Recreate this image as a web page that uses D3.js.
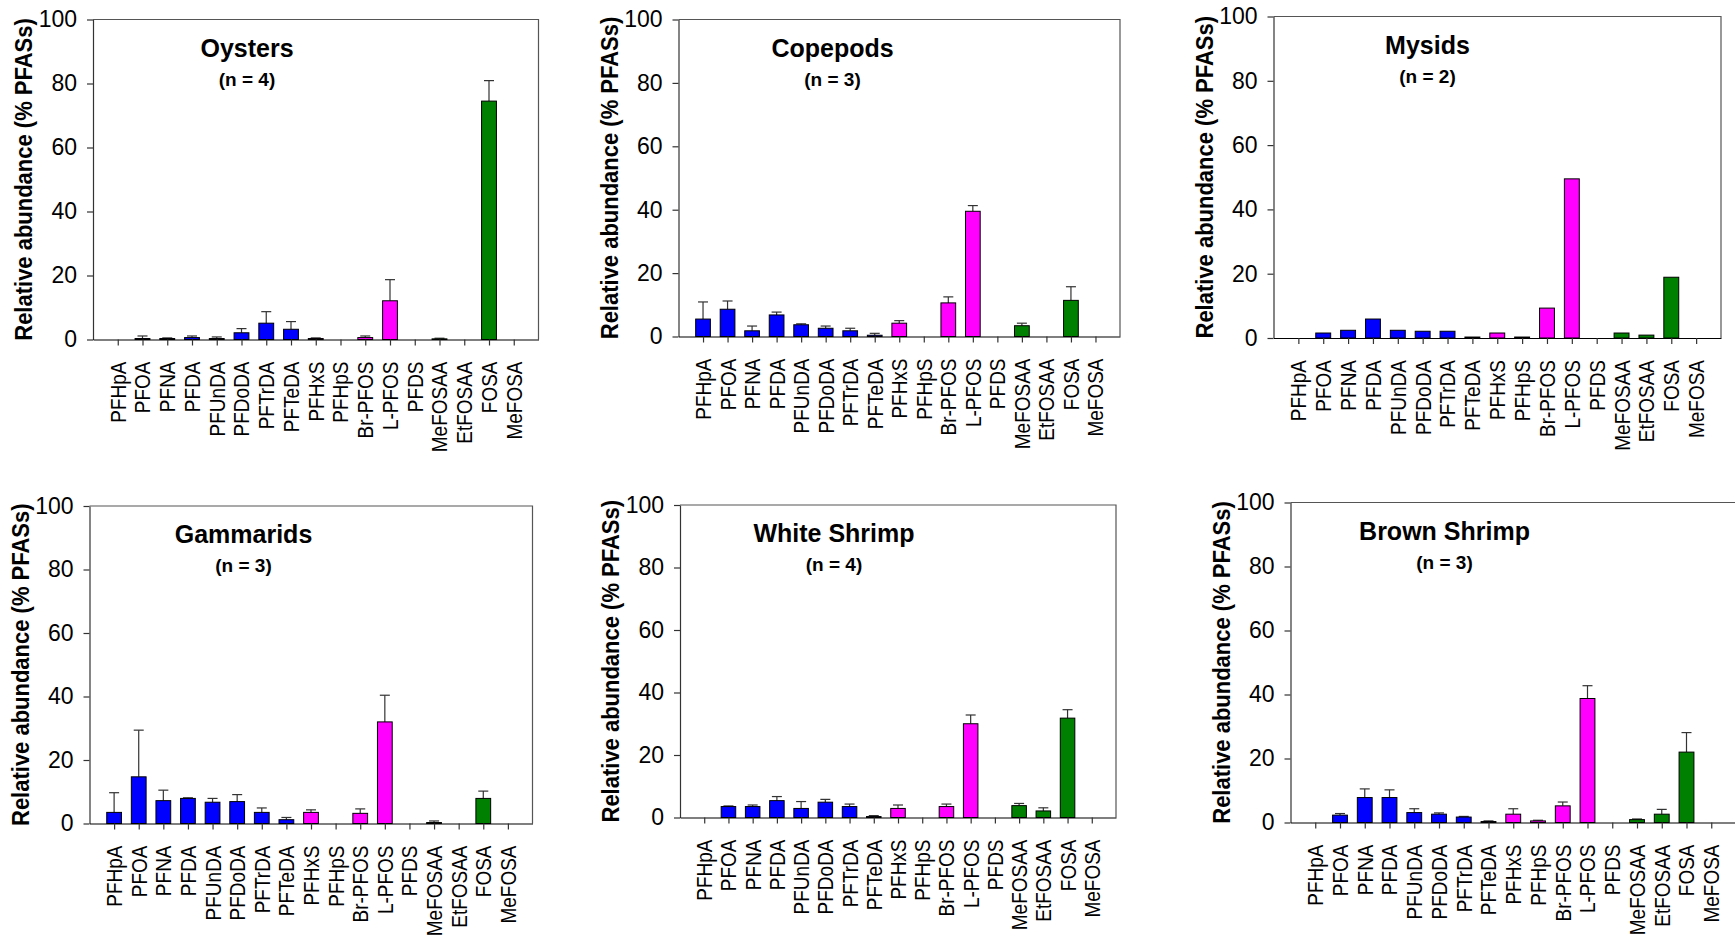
<!DOCTYPE html>
<html>
<head>
<meta charset="utf-8">
<script src="https://cdn.jsdelivr.net/npm/d3@7/dist/d3.min.js"></script>
<style>
  html, body { margin: 0; padding: 0; background: #fff; }
  svg { display: block; font-family: "Liberation Sans", Arial, sans-serif; }
</style>
</head>
<body>
<svg id="chart" width="1735" height="941"></svg>
<script>
// ---------------- DATA ----------------
const categories = ["PFHpA","PFOA","PFNA","PFDA","PFUnDA","PFDoDA","PFTrDA","PFTeDA",
  "PFHxS","PFHpS","Br-PFOS","L-PFOS","PFDS","MeFOSAA","EtFOSAA","FOSA","MeFOSA"];
// compound class for each category: c = carboxylates, s = sulfonates, p = precursors
const categoryClass = ["c","c","c","c","c","c","c","c","s","s","s","s","s","p","p","p","p"];
const yTicks = [0, 20, 40, 60, 80, 100];

const panelNames = ["Oysters","Copepods","Mysids","Gammarids","White Shrimp","Brown Shrimp"];
const panelN = ["(n = 4)","(n = 3)","(n = 2)","(n = 3)","(n = 4)","(n = 3)"];

const oystersMean   = [0, 0.3, 0.3, 0.6, 0.3, 2.1, 5.1, 3.2, 0.3, 0, 0.6, 12.1, 0, 0.2, 0, 74.5, 0];
const oystersSD     = [0, 0.8, 0.2, 0.5, 0.5, 1.3, 3.6, 2.4, 0.2, 0, 0.5, 6.6, 0, 0.2, 0, 6.4, 0];
const copepodsMean  = [5.5, 8.6, 1.8, 6.8, 3.7, 2.6, 1.8, 0.4, 4.2, 0, 10.6, 39.5, 0, 3.4, 0, 11.4, 0];
const copepodsSD    = [5.4, 2.6, 1.5, 0.9, 0.3, 0.7, 0.8, 0.6, 0.8, 0, 1.9, 1.8, 0, 0.8, 0, 4.3, 0];
const mysidsMean    = [0, 1.55, 2.4, 5.9, 2.4, 2.1, 2.1, 0.3, 1.55, 0.3, 9.3, 49.5, 0, 1.55, 0.9, 18.9, 0];
const mysidsSD      = null;
const gammaridsMean = [3.5, 14.7, 7.2, 7.9, 6.7, 6.9, 3.5, 1.2, 3.5, 0, 3.2, 32.0, 0, 0.3, 0, 7.9, 0];
const gammaridsSD   = [6.2, 14.7, 3.3, 0.2, 1.2, 2.2, 1.4, 0.7, 0.8, 0, 1.4, 8.4, 0, 0.5, 0, 2.3, 0];
const whiteMean     = [0, 3.5, 3.5, 5.4, 2.9, 4.9, 3.5, 0.3, 2.9, 0, 3.5, 30.0, 0, 3.8, 2.1, 31.8, 0];
const whiteSD       = [0, 0.2, 0.5, 1.3, 2.2, 0.9, 0.8, 0.3, 1.1, 0, 0.8, 2.8, 0, 0.7, 1.0, 2.7, 0];
const brownMean     = [0, 2.3, 7.8, 7.8, 3.1, 2.6, 1.7, 0.3, 2.6, 0.5, 5.2, 38.75, 0, 0.9, 2.6, 22.0, 0];
const brownSD       = [0, 0.5, 2.7, 2.4, 1.2, 0.4, 0.2, 0.2, 1.7, 0.2, 1.2, 4.0, 0, 0.2, 1.5, 6.1, 0];

const panelMeans = [oystersMean, copepodsMean, mysidsMean, gammaridsMean, whiteMean, brownMean];
const panelSDs   = [oystersSD, copepodsSD, mysidsSD, gammaridsSD, whiteSD, brownSD];

// ---------------- LAYOUT / STYLE ----------------
const layout = [
  {l: 93,    t: 19.5,  r: 538.5, b: 339.5},
  {l: 678.5, t: 19.5,  r: 1120,  b: 336.5},
  {l: 1273.5,t: 16.5,  r: 1721,  b: 338},
  {l: 89.5,  t: 506,   r: 532.5, b: 823.5},
  {l: 680,   t: 505,   r: 1116,  b: 817.5},
  {l: 1290.5,t: 502.5, r: 1736,  b: 822.5}
];
const classColor = {c: "#0000FF", s: "#FF00FF", p: "#008000"};
const FONT = "'Liberation Sans', Arial, sans-serif";

const svg = d3.select("#chart");
svg.append("rect").attr("width", 1735).attr("height", 941).attr("fill", "#fff");

layout.forEach((L, i) => {
  const w = L.r - L.l, h = L.b - L.t;
  const g = svg.append("g").attr("transform", `translate(${L.l},${L.t})`);
  const x = d3.scalePoint().domain(categories).range([0, w]).padding(1);
  const y = d3.scaleLinear().domain([0, 100]).range([h, 0]);
  const bw = x.step() * 0.6;
  const means = panelMeans[i], sds = panelSDs[i];

  // frame (top & right)
  g.append("path")
    .attr("d", `M0,0H${w}V${h}`)
    .attr("fill", "none").attr("stroke", "#555").attr("stroke-width", 1.2);

  // error bars
  if (sds) {
    const eg = g.append("g").attr("stroke", "#333").attr("stroke-width", 1.2);
    categories.forEach((c, k) => {
      if (means[k] > 0 && sds[k] > 0) {
        const cx = x(c);
        eg.append("line").attr("x1", cx).attr("x2", cx)
          .attr("y1", y(means[k])).attr("y2", y(means[k] + sds[k]));
        eg.append("line").attr("x1", cx - 5).attr("x2", cx + 5)
          .attr("y1", y(means[k] + sds[k])).attr("y2", y(means[k] + sds[k]));
      }
    });
  }

  // bars
  g.append("g").selectAll("rect")
    .data(categories.map((c, k) => ({c, v: means[k], cls: categoryClass[k]})).filter(d => d.v > 0))
    .join("rect")
    .attr("x", d => x(d.c) - bw / 2)
    .attr("width", bw)
    .attr("y", d => y(d.v))
    .attr("height", d => Math.max(0.5, y(0) - y(d.v)))
    .attr("fill", d => classColor[d.cls])
    .attr("stroke", "#000").attr("stroke-width", 1);

  // y axis
  const ya = g.append("g").call(d3.axisLeft(y).tickValues(yTicks).tickSize(6).tickSizeOuter(0).tickPadding(10));
  ya.select(".domain").attr("stroke", "#333").attr("stroke-width", 1.2);
  ya.selectAll(".tick line").attr("stroke", "#333").attr("stroke-width", 1.2);
  ya.selectAll(".tick text").attr("font-size", 23).attr("fill", "#000")
    .attr("font-family", FONT);

  // x axis
  const xa = g.append("g").attr("transform", `translate(0,${h})`)
    .call(d3.axisBottom(x).tickSize(6).tickSizeOuter(0));
  xa.select(".domain").attr("stroke", "#000").attr("stroke-width", 1.2);
  xa.selectAll(".tick line").attr("stroke", "#333").attr("stroke-width", 1.2);
  xa.selectAll(".tick text")
    .attr("font-size", 19).attr("fill", "#000")
    .attr("font-family", FONT)
    .attr("transform", "rotate(-90) scale(1,1.12)")
    .attr("text-anchor", "end")
    .attr("x", -22).attr("y", 0).attr("dy", "0.35em");

  // y axis title
  g.append("text")
    .attr("transform", `translate(-61,${h / 2}) rotate(-90) scale(1,1.08)`)
    .attr("text-anchor", "middle")
    .attr("font-size", 22).attr("font-weight", "bold")
    .text("Relative abundance (% PFASs)");

  // panel titles
  g.append("text").attr("x", 154).attr("y", 37)
    .attr("text-anchor", "middle").attr("font-size", 25).attr("font-weight", "bold")
    .text(panelNames[i]);
  g.append("text").attr("x", 154).attr("y", 66)
    .attr("text-anchor", "middle").attr("font-size", 19).attr("font-weight", "bold")
    .text(panelN[i]);
});
</script>
</body>
</html>
